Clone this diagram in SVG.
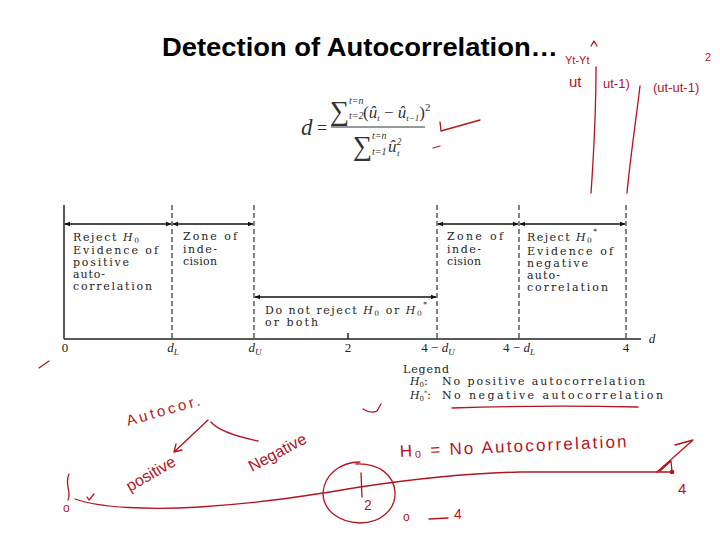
<svg xmlns="http://www.w3.org/2000/svg" width="720" height="540" viewBox="0 0 720 540">
<style>
.ax{stroke:#222;stroke-width:1.5;fill:none}
.dash{stroke:#333;stroke-width:1.2;stroke-dasharray:5,3;fill:none}
.arr{stroke:#111;stroke-width:1.6;fill:none;marker-start:url(#ah);marker-end:url(#ah)}
.ft{font-family:"DejaVu Serif","Liberation Serif",serif;font-size:11px;fill:#1e1e1e}
.lb{font-family:"Liberation Serif",serif;font-size:13px;fill:#222}
.ink{stroke:#b4141e;stroke-width:1.3;fill:none;stroke-linecap:round;stroke-linejoin:round}
.hw{font-family:"Liberation Sans",sans-serif;fill:#b4141e}
</style>
<defs>
<marker id="ah" viewBox="0 0 10 10" refX="9" refY="5" markerWidth="6" markerHeight="6" orient="auto-start-reverse" markerUnits="userSpaceOnUse">
<path d="M0,1 L10,5 L0,9 z" fill="#111"/>
</marker>
</defs>
<rect width="720" height="540" fill="#fff"/>

<g id="title">
<text x="162" y="56" font-family="'Liberation Sans',Arial,sans-serif" font-weight="bold" font-size="25" textLength="396" lengthAdjust="spacingAndGlyphs" fill="#000">Detection of Autocorrelation…</text>
</g>

<g id="formula" font-family="'Liberation Serif',serif" fill="#333">
<text x="301" y="135" font-size="23" font-style="italic">d</text>
<text x="317" y="134" font-size="18">=</text>
<line x1="331" y1="127" x2="425" y2="127" stroke="#333" stroke-width="1.1"/>
<text x="330" y="120" font-size="27">∑</text>
<text x="349" y="104" font-size="10" font-style="italic">t=n</text>
<text x="349" y="119" font-size="10" font-style="italic">t=2</text>
<text x="363" y="118" font-size="17">(<tspan font-style="italic">û</tspan><tspan font-size="9" font-style="italic" dy="3">t</tspan><tspan dy="-3"> − </tspan><tspan font-style="italic">û</tspan><tspan font-size="9" font-style="italic" dy="3">t−1</tspan><tspan dy="-3">)</tspan><tspan font-size="11" dy="-7">2</tspan></text>
<text x="353" y="155" font-size="27">∑</text>
<text x="372" y="139" font-size="10" font-style="italic">t=n</text>
<text x="372" y="155" font-size="10" font-style="italic">t=1</text>
<text x="388" y="152" font-size="17" font-style="italic">û<tspan font-size="10" dy="-7">2</tspan></text>
<text x="397" y="156" font-size="9" font-style="italic" fill="#333">t</text>
</g>

<g id="chart-lines">
<line class="ax" x1="64" y1="205" x2="64" y2="339"/>
<line class="ax" x1="64" y1="339" x2="641" y2="339"/>
<line class="dash" x1="172" y1="205" x2="172" y2="339"/>
<line class="dash" x1="254" y1="205" x2="254" y2="339"/>
<line class="dash" x1="437" y1="205" x2="437" y2="339"/>
<line class="dash" x1="519" y1="205" x2="519" y2="339"/>
<line class="dash" x1="626" y1="205" x2="626" y2="339"/>
<line class="ax" x1="348" y1="333" x2="348" y2="339"/>
</g>

<g id="connectors">
<line class="arr" x1="65" y1="224" x2="171" y2="224"/>
<line class="arr" x1="173" y1="224" x2="253" y2="224"/>
<line class="arr" x1="438" y1="224" x2="518" y2="224"/>
<line class="arr" x1="520" y1="224" x2="625" y2="224"/>
<line class="arr" x1="255" y1="297" x2="436" y2="297"/>
</g>

<g id="zone-reject-positive" class="ft">
<text x="73" y="241" textLength="66">Reject <tspan font-style="italic">H</tspan><tspan font-size="7.5" dy="2">0</tspan></text>
<text x="73" y="254" textLength="85">Evidence of</text>
<text x="73" y="266" textLength="56">positive</text>
<text x="73" y="278" textLength="32">auto-</text>
<text x="73" y="290" textLength="79">correlation</text>
</g>

<g id="zone-indecision-left" class="ft">
<text x="183" y="240" textLength="54">Zone of</text>
<text x="183" y="253" textLength="34">inde-</text>
<text x="183" y="265" textLength="34">cision</text>
</g>

<g id="zone-do-not-reject" class="ft">
<text x="265" y="314" textLength="162">Do not reject <tspan font-style="italic">H</tspan><tspan font-size="7.5" dy="2">0</tspan><tspan dy="-2"> or </tspan><tspan font-style="italic">H</tspan><tspan font-size="7.5" dy="2">0</tspan><tspan font-size="7.5" dy="-9">*</tspan></text>
<text x="265" y="326" textLength="53">or both</text>
</g>

<g id="zone-indecision-right" class="ft">
<text x="447" y="240" textLength="56">Zone of</text>
<text x="447" y="253" textLength="34">inde-</text>
<text x="447" y="265" textLength="34">cision</text>
</g>

<g id="zone-reject-negative" class="ft">
<text x="527" y="241" textLength="70">Reject <tspan font-style="italic">H</tspan><tspan font-size="7.5" dy="2">0</tspan><tspan font-size="7.5" dy="-9">*</tspan></text>
<text x="527" y="255" textLength="86">Evidence of</text>
<text x="527" y="267" textLength="61">negative</text>
<text x="527" y="279" textLength="33">auto-</text>
<text x="527" y="291" textLength="81">correlation</text>
</g>

<g id="axis-labels" class="lb" text-anchor="middle">
<text x="65" y="352">0</text>
<text x="173" y="352"><tspan font-style="italic">d</tspan><tspan font-style="italic" font-size="9" dy="3">L</tspan></text>
<text x="255" y="352"><tspan font-style="italic">d</tspan><tspan font-style="italic" font-size="9" dy="3">U</tspan></text>
<text x="348" y="352">2</text>
<text x="438" y="352">4 − <tspan font-style="italic">d</tspan><tspan font-style="italic" font-size="9" dy="3">U</tspan></text>
<text x="519" y="352">4 − <tspan font-style="italic">d</tspan><tspan font-style="italic" font-size="9" dy="3">L</tspan></text>
<text x="626" y="352">4</text>
<text x="652" y="343" font-style="italic">d</text>
</g>

<g id="legend" class="ft">
<text x="403" y="373" textLength="46">Legend</text>
<text x="410" y="385"><tspan font-style="italic">H</tspan><tspan font-size="7" dy="1.5">0</tspan><tspan dy="-1.5">:</tspan></text>
<text x="442" y="385" textLength="203">No positive autocorrelation</text>
<text x="410" y="399"><tspan font-style="italic">H</tspan><tspan font-size="7" dy="1.5">0</tspan><tspan font-size="6.5" dy="-6">*</tspan><tspan dy="4.5">:</tspan></text>
<text x="442" y="399" textLength="221">No negative autocorrelation</text>
</g>

<g id="annotations">
<path class="ink" d="M440,122 L441,131 L480,120"/>
<path class="ink" d="M433,148 L440,146"/>
<path class="ink" d="M39,368 L49,361"/>
<path class="ink" d="M363,409 Q371,414 377,411 L381,404"/>
<path class="ink" d="M452,408 Q540,405 638,407" stroke-width="1"/>
<path class="ink" d="M591,46 L594,41 L597,46"/>
<path class="ink" d="M596,67 C596,100 594,150 591,193"/>
<path class="ink" d="M640,86 C636,120 630,160 627,193"/>
<text class="hw" x="565" y="64" font-size="11">Yt-Yt</text>
<text class="hw" x="569" y="87" font-size="15">ut</text>
<text class="hw" x="603" y="88" font-size="13">ut-1)</text>
<text class="hw" x="653" y="92" font-size="13">(ut-ut-1)</text>
<text class="hw" x="705" y="61" font-size="11">2</text>

<text class="hw" x="128" y="426" font-size="15" letter-spacing="3" transform="rotate(-16 128 426)">Autocor.</text>
<path class="ink" d="M208,420 L174,452 M174,452 L176,444 M174,452 L182,450"/>
<path class="ink" d="M211,422 Q220,433 258,441"/>
<text class="hw" x="130" y="492" font-size="16" transform="rotate(-30 130 492)">positive</text>
<text class="hw" x="252" y="472" font-size="16" transform="rotate(-28 252 472)">Negative</text>

<path class="ink" d="M69,474 C64,485 72,492 68,500 M75,499 C100,508 150,510 200,507 C260,503 300,497 360,487 C420,478 470,473 520,472 L672,472"/>
<path class="ink" d="M87,497 L89,500 L94,494"/>
<text class="hw" x="63" y="512" font-size="12">o</text>
<circle cx="672" cy="472" r="2.3" fill="#b4141e"/>
<path class="ink" d="M657,472 L693,440 L675,445 M660,471 L671,461 L672,472"/>
<text class="hw" x="678" y="494" font-size="15">4</text>

<path class="ink" d="M360,462 C340,462 324,475 323,493 C323,510 338,522 360,523 C380,523 396,510 395,492 C394,476 380,463 356,464"/>
<path class="ink" d="M361,473 L362,497"/>
<text class="hw" x="364" y="510" font-size="14">2</text>

<text class="hw" x="400" y="457" font-size="17" textLength="227" transform="rotate(-2.5 400 457)">H₀ = No Autocorrelation</text>
<text class="hw" x="403" y="521" font-size="12">o</text>
<path class="ink" d="M429,519 L448,518"/>
<text class="hw" x="454" y="519" font-size="14">4</text>
</g>
</svg>
